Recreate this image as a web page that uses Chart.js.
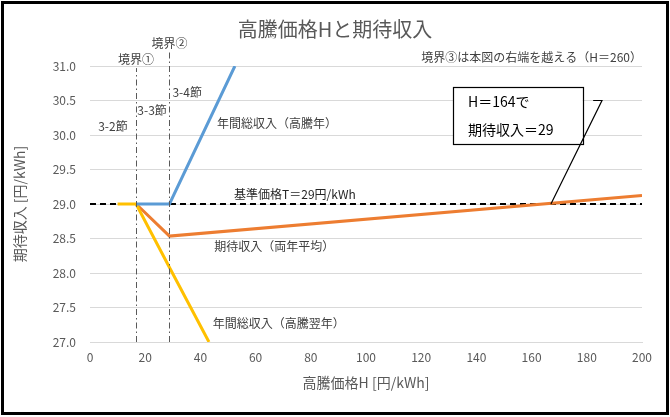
<!DOCTYPE html>
<html>
<head>
<meta charset="utf-8">
<script src="https://cdn.jsdelivr.net/npm/chart.js@4"></script>
<style>
  html, body { margin: 0; padding: 0; background: #fff; }
  #wrap { position: relative; width: 670px; height: 417px; }
</style>
</head>
<body>
<div id="wrap"><canvas id="chart" width="670" height="417"></canvas></div>
<script>
// values (H in 円/kWh, income in 円/kWh)
const highYearX = [16.7, 28.8, 52.5];
const highYearY = [29.0, 29.0, 31.0];

const nextYearX = [10, 16.7, 28.8, 43.1];
const nextYearY = [29.0, 29.0, 28.08, 27.0];

const averageX = [16.7, 28.8, 200];
const averageY = [29.0, 28.535, 29.124];

const baseX = [0, 200];
const baseY = [29, 29];

const boundaryX = [16.7, 28.8];
const boundaryTopY = [30.97, 31.2];

const FONT = '"Noto Sans CJK JP", "Noto Sans", sans-serif';
const GREY = '#595959';

const toPoints = (xs, ys) => xs.map((x, i) => ({ x: x, y: ys[i] }));

// text placed in data coordinates
const notes = [
    { text: '境界①', x: 16.7, y: 31.09, align: 'center' },
    { text: '境界②', x: 28.8, y: 31.32, align: 'center' },
    { text: '3-2節', x: 8.3, y: 30.13, align: 'center' },
    { text: '3-3節', x: 22.5, y: 30.35, align: 'center' },
    { text: '3-4節', x: 35.2, y: 30.62, align: 'center' },
    { text: '年間総収入（高騰年）', x: 46, y: 30.17, align: 'left' },
    { text: '基準価格T＝29円/kWh', x: 52.2, y: 29.14, align: 'left', color: '#262626' },
    { text: '期待収入（両年平均）', x: 45, y: 28.38, align: 'left' },
    { text: '年間総収入（高騰翌年）', x: 44.5, y: 27.27, align: 'left' },
    { text: '境界③は本図の右端を越える（H＝260）', x: 200, y: 31.13, align: 'right' }
];

const extras = {
    id: 'extras',
    afterDatasetsDraw(chart) {
        const ctx = chart.ctx;
        const xs = chart.scales.x;
        const ys = chart.scales.y;
        const area = chart.chartArea;

        ctx.save();

        // boundary lines (dash-dot)
        ctx.strokeStyle = GREY;
        ctx.lineWidth = 1;
        ctx.setLineDash([6, 3, 1.5, 3]);
        boundaryX.forEach((bx, i) => {
            const px = Math.round(xs.getPixelForValue(bx)) + 0.5;
            ctx.beginPath();
            ctx.moveTo(px, area.bottom);
            ctx.lineTo(px, ys.getPixelForValue(boundaryTopY[i]));
            ctx.stroke();
        });
        ctx.setLineDash([]);

        // notes
        ctx.font = '12px ' + FONT;
        ctx.textBaseline = 'middle';
        notes.forEach(n => {
            ctx.fillStyle = n.color || '#404040';
            ctx.textAlign = n.align;
            ctx.fillText(n.text, xs.getPixelForValue(n.x), ys.getPixelForValue(n.y));
        });

        // callout box
        const bx0 = xs.getPixelForValue(131.5), bx1 = xs.getPixelForValue(178.5);
        const by0 = ys.getPixelForValue(30.69), by1 = ys.getPixelForValue(29.86);
        ctx.fillStyle = '#fff';
        ctx.fillRect(bx0, by0, bx1 - bx0, by1 - by0);
        ctx.strokeStyle = '#000';
        ctx.lineWidth = 1.2;
        ctx.strokeRect(Math.round(bx0) + 0.5, Math.round(by0) + 0.5, Math.round(bx1 - bx0), Math.round(by1 - by0));
        ctx.font = '14px ' + FONT;
        ctx.fillStyle = '#000';
        ctx.textAlign = 'left';
        ctx.fillText('H＝164で', bx0 + 15, ys.getPixelForValue(30.49));
        ctx.fillText('期待収入＝29', bx0 + 15, ys.getPixelForValue(30.08));

        // callout leader
        ctx.beginPath();
        ctx.lineWidth = 1.2;
        ctx.moveTo(xs.getPixelForValue(167), ys.getPixelForValue(29.0));
        ctx.lineTo(xs.getPixelForValue(185.5), ys.getPixelForValue(30.5));
        ctx.lineTo(xs.getPixelForValue(182.3), ys.getPixelForValue(30.5));
        ctx.stroke();

        // chart title and axis titles
        ctx.fillStyle = GREY;
        ctx.textAlign = 'center';
        ctx.font = '20px ' + FONT;
        ctx.fillText('高騰価格Hと期待収入', chart.width / 2, 29);
        ctx.font = '14px ' + FONT;
        ctx.fillText('高騰価格H [円/kWh]', (area.left + area.right) / 2, 383);
        ctx.translate(20, (area.top + area.bottom) / 2);
        ctx.rotate(-Math.PI / 2);
        ctx.fillText('期待収入 [円/kWh]', 0, 0);
        ctx.restore();

        // outer frame
        ctx.save();
        ctx.strokeStyle = '#000';
        ctx.lineWidth = 3;
        ctx.strokeRect(2.5, 2.5, chart.width - 5, chart.height - 6);
        ctx.restore();
    }
};

new Chart(document.getElementById('chart'), {
    type: 'scatter',
    data: {
        datasets: [
            {
                label: '年間総収入（高騰年）',
                data: toPoints(highYearX, highYearY),
                showLine: true,
                borderColor: '#5B9BD5',
                borderWidth: 3,
                pointRadius: 0
            },
            {
                label: '年間総収入（高騰翌年）',
                data: toPoints(nextYearX, nextYearY),
                showLine: true,
                borderColor: '#FFC000',
                borderWidth: 3,
                pointRadius: 0
            },
            {
                label: '期待収入（両年平均）',
                data: toPoints(averageX, averageY),
                showLine: true,
                borderColor: '#ED7D31',
                borderWidth: 3,
                pointRadius: 0
            },
            {
                label: '基準価格T',
                data: toPoints(baseX, baseY),
                showLine: true,
                borderColor: '#000',
                borderWidth: 2,
                borderDash: [6, 4],
                pointRadius: 0
            }
        ]
    },
    options: {
        responsive: false,
        animation: false,
        layout: { padding: { top: 66, right: 28, left: 0, bottom: 0 } },
        plugins: {
            legend: { display: false },
            tooltip: { enabled: false }
        },
        scales: {
            x: {
                type: 'linear',
                min: 0,
                max: 200,
                ticks: {
                    stepSize: 20,
                    padding: 8,
                    color: GREY,
                    font: { family: FONT, size: 12 }
                },
                grid: { display: false, drawTicks: false },
                border: { display: true, color: '#d9d9d9' },
                afterFit(scale) { scale.height = 75; }
            },
            y: {
                min: 27,
                max: 31,
                ticks: {
                    stepSize: 0.5,
                    padding: 14,
                    color: GREY,
                    font: { family: FONT, size: 12 },
                    callback: v => v.toFixed(1)
                },
                grid: { color: '#d9d9d9', drawTicks: false },
                border: { display: false },
                afterFit(scale) { scale.width = 90; }
            }
        }
    },
    plugins: [extras]
});
</script>
</body>
</html>
